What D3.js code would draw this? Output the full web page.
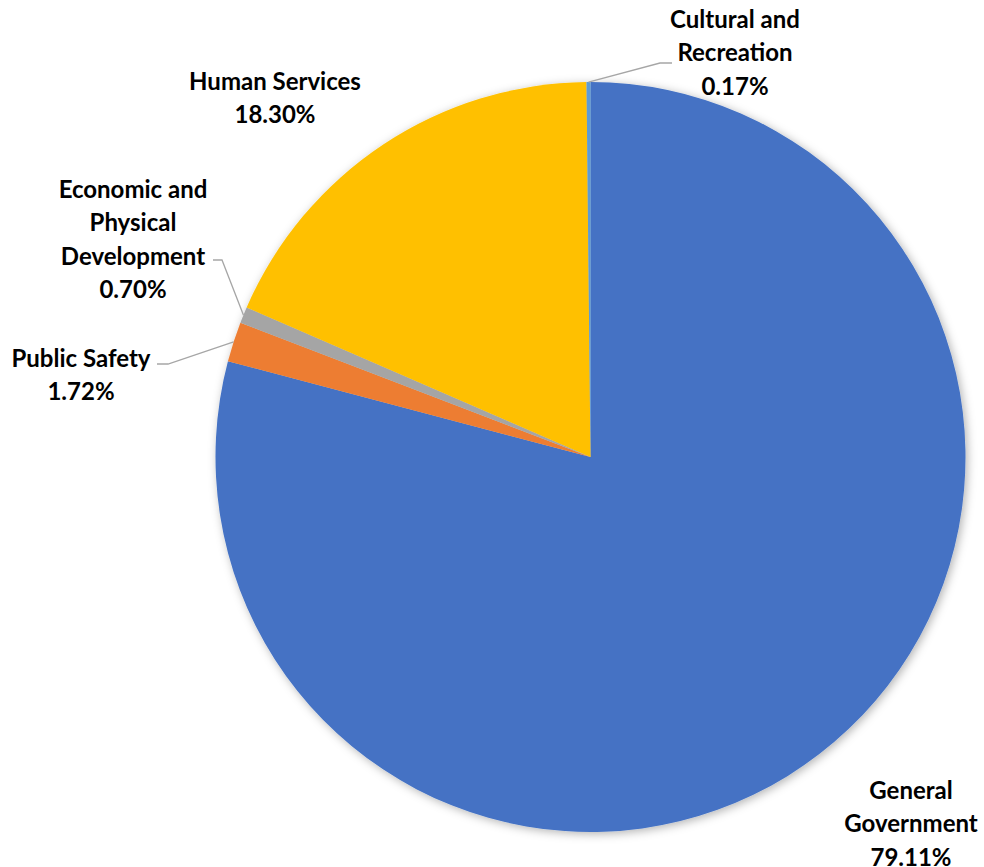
<!DOCTYPE html>
<html><head><meta charset="utf-8">
<script src="https://cdn.jsdelivr.net/npm/d3@7"></script>
<style>body{margin:0;background:#fff}svg{display:block}</style>
</head><body>
<script>
const categories = ["General Government","Public Safety","Economic and Physical Development","Human Services","Cultural and Recreation"];
const values = [79.11, 1.72, 0.70, 18.30, 0.17];
const colors = ["#4472C4","#ED7D31","#A5A5A5","#FFC000","#5B9BD5"];
const labelLines = [
  ["General","Government","79.11%"],
  ["Public Safety","1.72%"],
  ["Economic and","Physical","Development","0.70%"],
  ["Human Services","18.30%"],
  ["Cultural and","Recreation","0.17%"]
];
const labelPos = [[911,789],[81,357],[133,188],[275,80],[735,18]];
const leaders = [null,[[157,364],[168,364],"arc"],[[213,260],[222,260],"arc"],null,[[672,63],[660,63],"arc"]];

const W=984,H=867,cx=590.5,cy=457,R=375;
const svg=d3.select("body").append("svg").attr("width",W).attr("height",H);
const defs=svg.append("defs");
const f=defs.append("filter").attr("id","sh").attr("x","-10%").attr("y","-10%").attr("width","120%").attr("height","120%");
f.append("feDropShadow").attr("dx",2).attr("dy",2).attr("stdDeviation",5).attr("flood-color","#000").attr("flood-opacity",0.3);

const pie=d3.pie().sort(null).value(d=>d)(values);
const arc=d3.arc().innerRadius(0).outerRadius(R);
const g=svg.append("g").attr("transform",`translate(${cx},${cy})`);
g.append("g").attr("filter","url(#sh)").selectAll("path").data(pie).join("path")
  .attr("d",arc).attr("fill",(d,i)=>colors[i]);

leaders.forEach((L,i)=>{
  if(!L) return;
  const a=(pie[i].startAngle+pie[i].endAngle)/2;
  const px=cx+Math.sin(a)*R, py=cy-Math.cos(a)*R;
  svg.append("path").attr("d",d3.line()([L[0],L[1],[px,py]]))
    .attr("fill","none").attr("stroke","#A6A6A6").attr("stroke-width",1.3);
});

labelLines.forEach((lines,i)=>{
  const t=svg.append("text").attr("x",labelPos[i][0]).attr("y",labelPos[i][1])
    .attr("text-anchor","middle").attr("dominant-baseline","central")
    .style("font-family","Lato, 'Open Sans', sans-serif").style("font-weight","700").style("font-size","24px").attr("fill","#000");
  lines.forEach((s,j)=>t.append("tspan").attr("x",labelPos[i][0]).attr("y",labelPos[i][1]+j*33.3).text(s));
});
</script>
</body></html>
